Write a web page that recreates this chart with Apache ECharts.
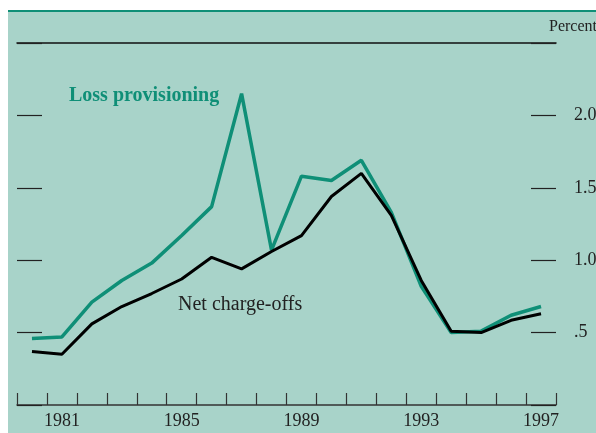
<!DOCTYPE html>
<html>
<head>
<meta charset="utf-8">
<script src="https://cdn.jsdelivr.net/npm/echarts@6/dist/echarts.min.js"></script>
<style>
  html, body { margin: 0; padding: 0; background: #fff; }
  #panel {
    position: absolute; left: 8px; top: 10px;
    width: 588px; height: 421px;
    background: #a8d3c9;
    border-top: 2px solid #0f8f77;
  }
  #chart { position: absolute; left: 0; top: 0; width: 596px; height: 433px; }
</style>
</head>
<body>
<div id="panel"></div>
<div id="chart"></div>
<script>
const years = ["1980", "1981", "1982", "1983", "1984", "1985", "1986", "1987", "1988",
  "1989", "1990", "1991", "1992", "1993", "1994", "1995", "1996", "1997"];
const lossProvisioning = [0.46, 0.47, 0.71, 0.86, 0.98, 1.17, 1.37, 2.15, 1.07,
  1.58, 1.55, 1.69, 1.33, 0.82, 0.50, 0.51, 0.62, 0.68];
const netChargeOffs = [0.37, 0.35, 0.56, 0.68, 0.77, 0.87, 1.02, 0.94, 1.06,
  1.17, 1.44, 1.60, 1.31, 0.86, 0.51, 0.50, 0.585, 0.63];
const yLabels = { "0.5": ".5", "1": "1.0", "1.5": "1.5", "2": "2.0" };

const teal = "#0f8f77";
const serif = "Liberation Serif";

const chart = echarts.init(document.getElementById("chart"));

const yAxisBase = {
  type: "value",
  min: 0,
  max: 2.5,
  interval: 0.5,
  axisLine: { show: false },
  splitLine: { show: false },
  axisTick: { show: true, inside: true, length: 25, lineStyle: { color: "#222", width: 1.2 } }
};

chart.setOption({
  animation: false,
  backgroundColor: "transparent",
  grid: { left: 17, right: 40, top: 43, bottom: 28, outerBoundsMode: "none", containLabel: false },
  xAxis: [
    {
      type: "category",
      data: years,
      boundaryGap: true,
      axisLine: { show: true, onZero: false, lineStyle: { color: "#333", width: 1.5 } },
      axisTick: {
        show: true,
        inside: true,
        length: 12,
        interval: 0,
        alignWithLabel: false,
        lineStyle: { color: "#333", width: 1.2 }
      },
      axisLabel: {
        interval: (i) => (i - 1) % 4 === 0,
        margin: 7,
        color: "#222",
        fontFamily: serif,
        fontSize: 18
      }
    },
    {
      type: "category",
      data: years,
      position: "top",
      axisLine: { show: true, onZero: false, lineStyle: { color: "#111", width: 1.5 } },
      axisTick: { show: false },
      axisLabel: { show: false }
    }
  ],
  yAxis: [
    Object.assign({}, yAxisBase, { position: "left", axisLabel: { show: false } }),
    Object.assign({}, yAxisBase, {
      position: "right",
      axisLabel: {
        margin: 18,
        color: "#222",
        fontFamily: serif,
        fontSize: 18,
        formatter: (v) => yLabels[String(v)] || ""
      }
    })
  ],
  graphic: [
    {
      type: "text", left: 549, top: 19,
      style: { text: "Percent", fill: "#222", font: "16px 'Liberation Serif'" }
    },
    {
      type: "text", left: 69, top: 86,
      style: { text: "Loss provisioning", fill: teal, font: "bold 20px 'Liberation Serif'" }
    },
    {
      type: "text", left: 178, top: 295,
      style: { text: "Net charge-offs", fill: "#222", font: "20px 'Liberation Serif'" }
    }
  ],
  series: [
    {
      name: "Loss provisioning",
      type: "line",
      data: lossProvisioning,
      showSymbol: false,
      lineStyle: { color: teal, width: 3.5 }
    },
    {
      name: "Net charge-offs",
      type: "line",
      data: netChargeOffs,
      showSymbol: false,
      lineStyle: { color: "#000", width: 3 }
    }
  ]
});
</script>
</body>
</html>
